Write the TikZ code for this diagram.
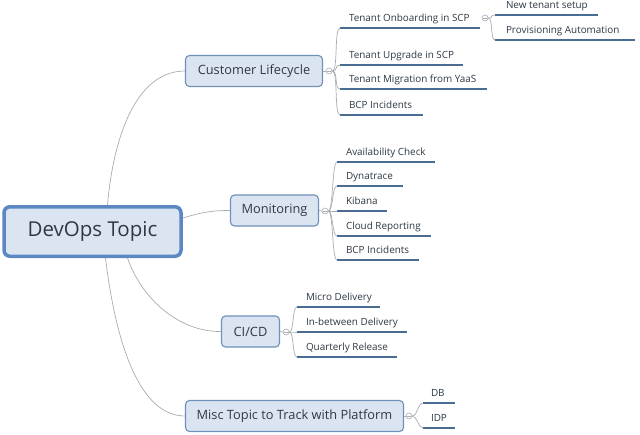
\documentclass[tikz,border=0pt]{standalone}
\usepackage{fontspec}
\setmainfont{Open Sans}
\usetikzlibrary{calc}
\definecolor{boxfill}{HTML}{DBE5F2}
\definecolor{rootblue}{HTML}{5B88C3}
\definecolor{topicblue}{HTML}{7090B8}
\definecolor{ulblue}{HTML}{4A6C92}
\definecolor{conngray}{HTML}{A8ADB3}
\definecolor{txt}{HTML}{2E3945}
\begin{document}
\begin{tikzpicture}[x=1pt,y=-1pt,
  rootbox/.style={draw=rootblue, line width=3.5pt, fill=boxfill, rounded corners=6pt,
    minimum width=177pt, minimum height=49.5pt, inner sep=0pt, text=txt,
    font=\fontsize{20.5}{24}\selectfont},
  topic/.style={draw=topicblue, line width=1.1pt, fill=boxfill, rounded corners=4pt,
    minimum height=31pt, inner sep=0pt, text=txt, font=\fontsize{12.8}{15}\selectfont},
  leaf/.style={anchor=south west, inner xsep=9pt, inner ysep=4.5pt, outer sep=0pt,
    text height=7pt, text depth=2.5pt, text=txt, font=\fontsize{9.9}{12}\selectfont},
  uline/.style={draw=ulblue, line width=2pt},
  conn/.style={draw=conngray, line width=0.7pt},
  coll/.style={circle, draw=conngray, line width=0.6pt, minimum size=6pt, inner sep=0pt,
    fill=white, path picture={\draw[conngray, line width=0.5pt]
      ([xshift=-1.6pt]path picture bounding box.center) -- ([xshift=1.6pt]path picture bounding box.center);}}
]
\useasboundingbox[fill=white] (0,0) rectangle (640,434);

% root and topics
\node[rootbox] (root) at (92.5,231.5) {DevOps Topic};
\node[topic, minimum width=137pt] (cl) at (254,71) {Customer Lifecycle};
\node[topic, minimum width=88pt] (mon) at (274.5,210.5) {Monitoring};
\node[topic, minimum width=58pt] (ci) at (250.5,331.5) {CI/CD};
\node[topic, minimum width=218pt] (misc) at (294.5,416) {Misc Topic to Track with Platform};

% collapse circles
\node[coll] (c1) at (329,71) {};
\node[coll] (c2) at (325,211) {};
\node[coll] (c3) at (286,332) {};
\node[coll] (c4) at (409,416) {};
\node[coll] (c1a) at (485,18) {};

\draw[conn] (cl.east) -- (c1.west);
\draw[conn] (mon.east) -- (c2.west);
\draw[conn] (ci.east) -- (c3.west);
\draw[conn] (misc.east) -- (c4.west);

% root connectors
\draw[conn] ($(root.north)+(15,0)$) .. controls (113,140) and (135,71) .. (cl.west);
\draw[conn] ($(root.north east)+(0,13)$) .. controls (203,212) and (212,210.5) .. (mon.west);
\draw[conn] ($(root.south)+(35,0)$) .. controls (142,300) and (180,332) .. (ci.west);
\draw[conn] ($(root.south)+(13,0)$) .. controls (116,345) and (140,416) .. (misc.west);

% Customer Lifecycle leaves
\node[leaf] (l11) at (340,28) {Tenant Onboarding in SCP};
\node[leaf] (l12) at (340,65) {Tenant Upgrade in SCP};
\node[leaf] (l13) at (340,89) {Tenant Migration from YaaS};
\node[leaf] (l14) at (340,115) {BCP Incidents};
\draw[uline] (l11.south west) -- ++(140,0);
\draw[uline] (l12.south west) -- ++(123,0);
\draw[uline] (l13.south west) -- ++(147,0);
\draw[uline] (l14.south west) -- ++(83,0);
\foreach \n in {l11,l12,l13,l14}
  \draw[conn] (c1.east) .. controls +(6,0) and +(-6,0) .. (\n.south west);

% sub leaves
\node[leaf, inner xsep=11pt] (l111) at (495,15) {New tenant setup};
\node[leaf, inner xsep=11pt] (l112) at (495,40) {Provisioning Automation};
\draw[uline] (l111.south west) -- ++(103,0);
\draw[uline] (l112.south west) -- ++(140,0);
\foreach \n in {l111,l112}
  \draw[conn] (c1a.east) .. controls +(5,0) and +(-5,0) .. (\n.south west);

% Monitoring leaves
\node[leaf] (l21) at (337,162) {Availability Check};
\node[leaf] (l22) at (337,186) {Dynatrace};
\node[leaf] (l23) at (337,211) {Kibana};
\node[leaf] (l24) at (337,236) {Cloud Reporting};
\node[leaf] (l25) at (337,260) {BCP Incidents};
\draw[uline] (l21.south west) -- ++(98,0);
\draw[uline] (l22.south west) -- ++(66,0);
\draw[uline] (l23.south west) -- ++(50,0);
\draw[uline] (l24.south west) -- ++(94,0);
\draw[uline] (l25.south west) -- ++(82,0);
\foreach \n in {l21,l22,l23,l24,l25}
  \draw[conn] (c2.east) .. controls +(5,0) and +(-5,0) .. (\n.south west);

% CI/CD leaves
\node[leaf] (l31) at (297,307) {Micro Delivery};
\node[leaf] (l32) at (297,332) {In-between Delivery};
\node[leaf] (l33) at (297,357) {Quarterly Release};
\draw[uline] (l31.south west) -- ++(83,0);
\draw[uline] (l32.south west) -- ++(110,0);
\draw[uline] (l33.south west) -- ++(100,0);
\foreach \n in {l31,l32,l33}
  \draw[conn] (c3.east) .. controls +(5,0) and +(-5,0) .. (\n.south west);

% Misc leaves
\node[leaf, inner xsep=8pt] (l41) at (423,403) {DB};
\node[leaf, inner xsep=8pt] (l42) at (423,428) {IDP};
\draw[uline] (l41.south west) -- ++(32,0);
\draw[uline] (l42.south west) -- ++(32,0);
\foreach \n in {l41,l42}
  \draw[conn] (c4.east) .. controls +(5,0) and +(-5,0) .. (\n.south west);
\end{tikzpicture}
\end{document}
